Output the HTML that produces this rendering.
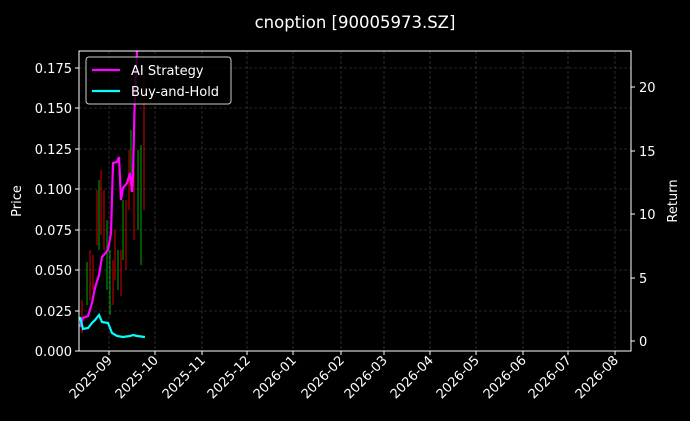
<!DOCTYPE html>
<html><head><meta charset="utf-8"><style>
html,body{margin:0;padding:0;background:#000;}
svg{display:block;font-family:"DejaVu Sans","Liberation Sans",sans-serif;}
</style></head><body>
<svg width="690" height="421" viewBox="0 0 690 421" xmlns="http://www.w3.org/2000/svg">
<rect width="690" height="421" fill="#000"/>
<text x="355" y="28" fill="#fff" font-size="16.5" text-anchor="middle">cnoption [90005973.SZ]</text>
<g stroke="#4a4a4a" stroke-width="0.6" stroke-dasharray="3,2">
<line x1="109" y1="51" x2="109" y2="351"/><line x1="155" y1="51" x2="155" y2="351"/>
<line x1="202" y1="51" x2="202" y2="351"/><line x1="247" y1="51" x2="247" y2="351"/>
<line x1="293" y1="51" x2="293" y2="351"/><line x1="341" y1="51" x2="341" y2="351"/>
<line x1="384" y1="51" x2="384" y2="351"/><line x1="430" y1="51" x2="430" y2="351"/>
<line x1="476" y1="51" x2="476" y2="351"/><line x1="523" y1="51" x2="523" y2="351"/>
<line x1="568" y1="51" x2="568" y2="351"/><line x1="615" y1="51" x2="615" y2="351"/>
<line x1="79" y1="311" x2="631" y2="311"/><line x1="79" y1="270" x2="631" y2="270"/>
<line x1="79" y1="230" x2="631" y2="230"/><line x1="79" y1="189" x2="631" y2="189"/>
<line x1="79" y1="149" x2="631" y2="149"/><line x1="79" y1="108" x2="631" y2="108"/>
<line x1="79" y1="68" x2="631" y2="68"/>
</g>
<g stroke-width="1">
<line x1="82" y1="300" x2="82" y2="333" stroke="#d00"/>
<line x1="87" y1="262" x2="87" y2="305" stroke="#0a0"/>
<line x1="90" y1="250" x2="90" y2="300" stroke="#d00"/>
<line x1="93" y1="255" x2="93" y2="290" stroke="#d00"/>
<line x1="97" y1="190" x2="97" y2="245" stroke="#d00"/>
<line x1="99" y1="180" x2="99" y2="250" stroke="#0a0"/>
<line x1="101" y1="170" x2="101" y2="235" stroke="#d00"/>
<line x1="104" y1="190" x2="104" y2="250" stroke="#d00"/>
<line x1="107" y1="220" x2="107" y2="290" stroke="#0a0"/>
<line x1="110" y1="250" x2="110" y2="315" stroke="#0a0"/>
<line x1="113" y1="260" x2="113" y2="305" stroke="#d00"/>
<line x1="115" y1="230" x2="115" y2="280" stroke="#d00"/>
<line x1="118" y1="250" x2="118" y2="290" stroke="#0a0"/>
<line x1="121" y1="250" x2="121" y2="296" stroke="#d00"/>
<line x1="123" y1="200" x2="123" y2="260" stroke="#0a0"/>
<line x1="126" y1="200" x2="126" y2="270" stroke="#d00"/>
<line x1="129" y1="150" x2="129" y2="210" stroke="#d00"/>
<line x1="131" y1="130" x2="131" y2="190" stroke="#0a0"/>
<line x1="134" y1="160" x2="134" y2="240" stroke="#d00"/>
<line x1="138" y1="150" x2="138" y2="230" stroke="#0a0"/>
<line x1="141" y1="145" x2="141" y2="265" stroke="#0a0"/>
<line x1="144" y1="75" x2="144" y2="210" stroke="#d00"/>
</g>
<polyline fill="none" stroke="#ff00ff" stroke-width="2.2" points="80,327 83,318 88,316 92,303 95,288 99,275 102,257 108,250 111,233 113,163 117,162 119,157 121,200 123,188 127,183 130,173 132,192 133,173 135,90 137,51"/>
<polyline fill="none" stroke="#00ffff" stroke-width="2.2" points="80,317 83,329 88,328 92,323 95,320 99,315 102,322 108,323 112,333 117,336 123,337 130,336 133,335 137,336 145,337"/>
<rect x="79" y="51" width="552" height="300" fill="none" stroke="#fff" stroke-width="1"/>
<g stroke="#fff" stroke-width="1">
<line x1="75" y1="351" x2="79" y2="351"/><line x1="75" y1="311" x2="79" y2="311"/><line x1="75" y1="270" x2="79" y2="270"/><line x1="75" y1="230" x2="79" y2="230"/><line x1="75" y1="189" x2="79" y2="189"/><line x1="75" y1="149" x2="79" y2="149"/><line x1="75" y1="108" x2="79" y2="108"/><line x1="75" y1="68" x2="79" y2="68"/>
<line x1="631" y1="341" x2="635" y2="341"/><line x1="631" y1="278" x2="635" y2="278"/><line x1="631" y1="214" x2="635" y2="214"/><line x1="631" y1="151" x2="635" y2="151"/><line x1="631" y1="87" x2="635" y2="87"/>
<line x1="109" y1="351" x2="109" y2="355"/><line x1="155" y1="351" x2="155" y2="355"/><line x1="202" y1="351" x2="202" y2="355"/><line x1="247" y1="351" x2="247" y2="355"/><line x1="293" y1="351" x2="293" y2="355"/><line x1="341" y1="351" x2="341" y2="355"/><line x1="384" y1="351" x2="384" y2="355"/><line x1="430" y1="351" x2="430" y2="355"/><line x1="476" y1="351" x2="476" y2="355"/><line x1="523" y1="351" x2="523" y2="355"/><line x1="568" y1="351" x2="568" y2="355"/><line x1="615" y1="351" x2="615" y2="355"/>
</g>
<g fill="#fff" font-size="13" text-anchor="end">
<text x="72" y="356">0.000</text><text x="72" y="316">0.025</text><text x="72" y="275">0.050</text><text x="72" y="235">0.075</text><text x="72" y="194">0.100</text><text x="72" y="154">0.125</text><text x="72" y="113">0.150</text><text x="72" y="73">0.175</text>
</g>
<g fill="#fff" font-size="13">
<text x="639" y="346">0</text><text x="639" y="283">5</text><text x="639" y="219">10</text><text x="639" y="156">15</text><text x="639" y="92">20</text>
</g>
<g fill="#fff" font-size="13" text-anchor="end">
<text transform="translate(113,361) rotate(-45)">2025-09</text>
<text transform="translate(159,361) rotate(-45)">2025-10</text>
<text transform="translate(206,361) rotate(-45)">2025-11</text>
<text transform="translate(251,361) rotate(-45)">2025-12</text>
<text transform="translate(297,361) rotate(-45)">2026-01</text>
<text transform="translate(345,361) rotate(-45)">2026-02</text>
<text transform="translate(388,361) rotate(-45)">2026-03</text>
<text transform="translate(434,361) rotate(-45)">2026-04</text>
<text transform="translate(480,361) rotate(-45)">2026-05</text>
<text transform="translate(527,361) rotate(-45)">2026-06</text>
<text transform="translate(572,361) rotate(-45)">2026-07</text>
<text transform="translate(619,361) rotate(-45)">2026-08</text>
</g>
<text transform="translate(21,201) rotate(-90)" fill="#fff" font-size="13" text-anchor="middle">Price</text>
<text transform="translate(677,201) rotate(-90)" fill="#fff" font-size="13" text-anchor="middle">Return</text>
<rect x="86" y="57" width="145" height="47" rx="3" fill="#000" fill-opacity="0.8" stroke="#ccc" stroke-width="1"/>
<line x1="92" y1="70" x2="120" y2="70" stroke="#ff00ff" stroke-width="2.2"/>
<line x1="92" y1="91" x2="120" y2="91" stroke="#00ffff" stroke-width="2.2"/>
<text x="131" y="75" fill="#fff" font-size="13">AI Strategy</text>
<text x="131" y="96" fill="#fff" font-size="13">Buy-and-Hold</text>
</svg>
</body></html>
